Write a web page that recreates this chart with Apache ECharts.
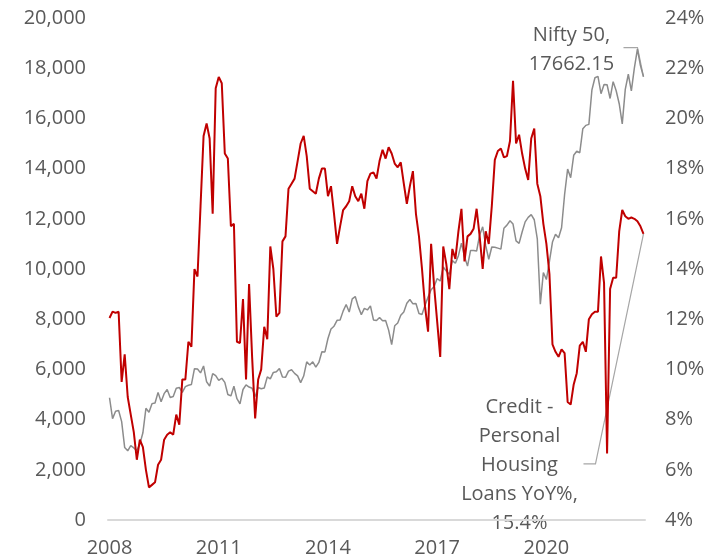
<!DOCTYPE html>
<html>
<head>
<meta charset="utf-8">
<script src="https://cdn.jsdelivr.net/npm/echarts@6/dist/echarts.min.js"></script>
<style>
html, body { margin: 0; padding: 0; background: #fff; }
#chart { width: 722px; height: 560px; }
</style>
</head>
<body>
<div id="chart"></div>
<script>
// monthly data, first point May 2008, last point Jan 2023
const startYear = 2008
const startMonth = 5

// Nifty 50 month-end close (left axis)
const niftyClose = [
    4870, 4040, 4333, 4360, 3921, 2885, 2755, 2959,
    2874, 2763, 3021, 3474, 4449, 4291, 4636, 4662, 5084, 4712, 5033, 5201,
    4882, 4922, 5249, 5278, 5087, 5313, 5368, 5402, 6030, 6018, 5863, 6135,
    5506, 5333, 5834, 5749, 5560, 5647, 5482, 5001, 4943, 5327, 4832, 4624,
    5199, 5385, 5296, 5248, 4924, 5279, 5229, 5259, 5703, 5620, 5880, 5905,
    6035, 5693, 5683, 5930, 5986, 5842, 5742, 5471, 5735, 6299, 6176, 6304,
    6090, 6277, 6704, 6696, 7230, 7611, 7721, 7954, 7965, 8322, 8588, 8283,
    8809, 8902, 8491, 8182, 8434, 8369, 8533, 7971, 7949, 8066, 7935, 7946,
    7564, 6987, 7738, 7850, 8160, 8288, 8639, 8786, 8611, 8626, 8224, 8186,
    8561, 8880, 9174, 9304, 9621, 9521, 10077, 9918, 9789, 10335, 10227, 10531,
    11028, 10493, 10114, 10739, 10736, 10714, 11357, 11681, 10930, 10387, 10877, 10863,
    10831, 10793, 11624, 11748, 11923, 11789, 11118, 11023, 11474, 11877, 12056, 12168,
    11962, 11202, 8598, 9860, 9580, 10302, 11073, 11388, 11248, 11642, 12969, 13982,
    13635, 14529, 14691, 14631, 15583, 15722, 15763, 17132, 17618, 17672, 16983, 17354,
    17340, 16794, 17465, 17103, 16585, 15780, 17158, 17759, 17094, 18012, 18758, 18105,
    17662.15
]

// Credit - personal housing loans, YoY % (right axis)
const housingYoY = [
    12.05, 12.3, 12.25, 12.3, 9.5, 10.6, 8.9, 8.2,
    7.5, 6.4, 7.2, 6.9, 6.0, 5.3, 5.4, 5.5, 6.2, 6.4, 7.2, 7.4,
    7.5, 7.4, 8.2, 7.8, 9.6, 9.6, 11.1, 10.9, 14.0, 13.7, 16.5, 19.3,
    19.8, 19.2, 16.2, 21.2, 21.65, 21.4, 18.6, 18.4, 15.7, 15.8, 11.1, 11.05,
    12.8, 9.6, 13.4, 10.5, 8.05, 9.6, 10.0, 11.7, 11.2, 14.9, 14.0, 12.1,
    12.25, 15.1, 15.3, 17.2, 17.4, 17.6, 18.3, 19.0, 19.3, 18.5, 17.2, 17.1,
    17.0, 17.6, 18.0, 18.0, 16.9, 17.3, 16.2, 15.0, 15.7, 16.35, 16.5, 16.7,
    17.3, 16.9, 16.7, 17.0, 16.4, 17.5, 17.8, 17.85, 17.6, 18.3, 18.75, 18.4,
    18.85, 18.6, 18.2, 18.05, 18.25, 17.4, 16.6, 17.3, 17.9, 16.2, 15.3, 14.0,
    12.5, 11.5, 15.0, 13.3, 11.9, 10.5, 14.9, 14.2, 13.2, 14.8, 14.4, 15.5,
    16.4, 14.3, 15.3, 15.4, 15.6, 16.4, 15.3, 14.0, 15.5, 15.0, 16.5, 18.35,
    18.7, 18.8, 18.45, 18.5, 19.1, 21.5, 19.0, 19.35, 18.6, 18.0, 17.55, 19.2,
    19.6, 17.4, 16.9, 15.8, 15.0, 13.8, 11.0, 10.7, 10.5, 10.8, 10.65, 8.7,
    8.6, 9.4, 9.85, 10.95, 11.1, 10.7, 12.0, 12.2, 12.3, 12.3, 14.5, 13.45,
    6.65, 13.2, 13.65, 13.65, 15.5, 16.35, 16.1, 16.0, 16.05, 16.0, 15.9, 15.7,
    15.4
]

const months = []
for (let i = 0; i < niftyClose.length; i++) {
    const m = startMonth - 1 + i
    months.push((startYear + Math.floor(m / 12)) + '-' + String(m % 12 + 1).padStart(2, '0'))
}

const textColor = '#595959'
const fontFamily = 'Open Sans'

const chart = echarts.init(document.getElementById('chart'))
chart.setOption({
    animation: false,
    grid: { left: 108, right: 77, top: 18, bottom: 40 },
    xAxis: {
        type: 'category',
        data: months,
        boundaryGap: true,
        axisLine: { lineStyle: { color: '#d9d9d9', width: 2 } },
        axisTick: { show: false },
        axisLabel: {
            interval: 35,
            margin: 18,
            color: textColor,
            fontFamily: fontFamily,
            fontSize: 20,
            formatter: v => v.slice(0, 4)
        }
    },
    yAxis: [
        {
            type: 'value',
            min: 0,
            max: 20000,
            interval: 2000,
            splitLine: { show: false },
            axisLine: { show: false },
            axisLabel: {
                margin: 22,
                color: textColor,
                fontFamily: fontFamily,
                fontSize: 20,
                formatter: v => v.toLocaleString('en-US')
            }
        },
        {
            type: 'value',
            min: 4,
            max: 24,
            interval: 2,
            splitLine: { show: false },
            axisLine: { show: false },
            axisLabel: {
                margin: 20,
                color: textColor,
                fontFamily: fontFamily,
                fontSize: 20,
                formatter: '{value}%'
            }
        }
    ],
    series: [
        {
            name: 'Nifty 50',
            type: 'line',
            yAxisIndex: 0,
            data: niftyClose,
            showSymbol: false,
            lineStyle: { color: '#8c8c8c', width: 1.5 }
        },
        {
            name: 'Credit - Personal Housing Loans YoY%',
            type: 'line',
            yAxisIndex: 1,
            data: housingYoY,
            showSymbol: false,
            lineStyle: { color: '#c00000', width: 2 }
        }
    ]
})

// end-of-series call-outs, placed from the pixel position of the last points
const last = niftyClose.length - 1
const pN = chart.convertToPixel({ seriesIndex: 0 }, [last, niftyClose[last]])
const pC = chart.convertToPixel({ seriesIndex: 1 }, [last, housingYoY[last]])
const leader = { stroke: '#a6a6a6', lineWidth: 1.2, fill: null }
const calloutText = {
    fill: textColor,
    font: '20px "' + fontFamily + '"',
    textAlign: 'center',
    textVerticalAlign: 'middle',
    lineHeight: 29
}
chart.setOption({
    graphic: [
        {
            type: 'polyline',
            shape: { points: [[pN[0] - 20, pN[1] - 29], [pN[0] - 6, pN[1] - 29], pN] },
            style: leader
        },
        {
            type: 'text',
            x: pN[0] - 72,
            y: pN[1] - 27,
            style: Object.assign({ text: 'Nifty 50,\n' + niftyClose[last] }, calloutText)
        },
        {
            type: 'polyline',
            shape: { points: [[pC[0] - 60, pC[1] + 230], [pC[0] - 48, pC[1] + 230], pC] },
            style: leader
        },
        {
            type: 'text',
            x: pC[0] - 124,
            y: pC[1] + 231,
            style: Object.assign({ text: 'Credit -\nPersonal\nHousing\nLoans YoY%,\n' + housingYoY[last] + '%' }, calloutText)
        }
    ]
})
</script>
</body>
</html>
